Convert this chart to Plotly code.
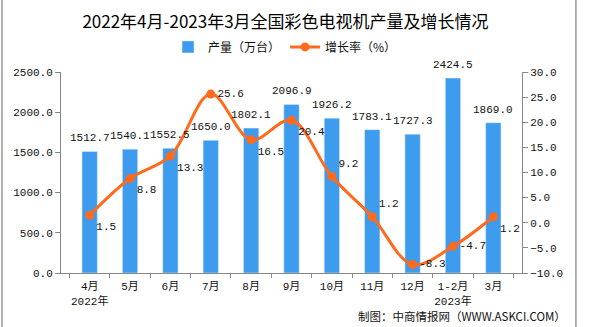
import plotly.graph_objects as go

categories = ["4月<br>2022年", "5月", "6月", "7月", "8月", "9月", "10月", "11月", "12月", "1-2月<br>2023年", "3月"]
production = [1512.7, 1540.1, 1552.5, 1650.0, 1802.1, 2096.9, 1926.2, 1783.1, 1727.3, 2424.5, 1869.0]
growth = [1.5, 8.8, 13.3, 25.6, 16.5, 20.4, 9.2, 1.2, -8.3, -4.7, 1.2]
growth_pos = ["bottom right", "bottom right", "bottom right", "middle right", "bottom right",
              "bottom right", "top right", "top right", "middle right", "middle right", "bottom right"]

title_text = "2022年4月-2023年3月全国彩色电视机产量及增长情况"
source_text = "制图：中商情报网（WWW.ASKCI.COM）"

num_font = "Liberation Mono, Noto Sans CJK SC, monospace"
cjk_font = "Noto Sans CJK SC"

fig = go.Figure()
fig.add_trace(go.Bar(
    x=categories, y=production, name="产量（万台）",
    marker_color="#3D9CEE", width=0.38,
))
fig.add_trace(go.Scatter(
    x=categories, y=growth, name="增长率（%）", yaxis="y2",
    mode="lines+markers+text",
    line=dict(color="#FF6A1C", width=3, shape="spline", smoothing=1.0),
    marker=dict(color="#FF6A1C", size=9),
    text=[f"{v:.1f}" for v in growth], textposition=growth_pos,
    textfont=dict(family=num_font, size=11, color="#111"),
    cliponaxis=False,
))

for c, v in zip(categories, production):
    fig.add_annotation(x=c, y=v, xref="x", yref="y", text=f"{v:.1f}", showarrow=False,
                       yanchor="bottom", yshift=5,
                       font=dict(family=num_font, size=11, color="#111"))

axis_col = "#888888"
fig.update_layout(
    width=594, height=327,
    margin=dict(l=61, r=72, t=72, b=54),
    paper_bgcolor="white", plot_bgcolor="white",
    title=dict(text=title_text, x=0.487, xanchor="center", y=0.933, yanchor="middle",
               font=dict(family=cjk_font, size=17, color="#000"), xref="paper"),
    legend=dict(orientation="h", x=0.486, xanchor="center", y=1.125, yanchor="middle",
                font=dict(family=cjk_font, size=12, color="#111"), itemwidth=30,
                bgcolor="rgba(0,0,0,0)"),
    bargap=0.6,
    xaxis=dict(type="category", showline=True, linecolor=axis_col, linewidth=1,
               ticks="outside", tickson="boundaries", ticklen=4, tickcolor=axis_col,
               tickangle=0, ticklabelstandoff=3,
               tickfont=dict(family=num_font, size=11, color="#111"), showgrid=False),
    yaxis=dict(range=[0, 2500], dtick=500, tickformat=".1f", showline=True, linecolor=axis_col,
               ticks="outside", ticklen=5, tickcolor=axis_col, showgrid=False, zeroline=False,
               tickfont=dict(family=num_font, size=11, color="#111")),
    yaxis2=dict(range=[-10, 30], dtick=5, tickformat=".1f", overlaying="y", side="right",
                showline=True, linecolor=axis_col, ticks="outside", ticklen=5, tickcolor=axis_col,
                showgrid=False, zeroline=False,
                tickfont=dict(family=num_font, size=11, color="#111")),
)

fig.add_annotation(text=source_text, xref="paper", yref="paper", x=1.1, xanchor="right",
                   y=-0.215, yanchor="middle", showarrow=False,
                   font=dict(family="Noto Sans CJK SC", size=11.5, color="#111"))

# frame lines
fig.add_shape(type="line", xref="paper", yref="paper", x0=-0.128, x1=-0.128, y0=-0.27, y1=1.36,
              line=dict(color="#999", width=1.5))
fig.add_shape(type="line", xref="paper", yref="paper", x0=1.117, x1=1.117, y0=-0.27, y1=1.36,
              line=dict(color="#999", width=1.5))

fig.write_html("out.html")
